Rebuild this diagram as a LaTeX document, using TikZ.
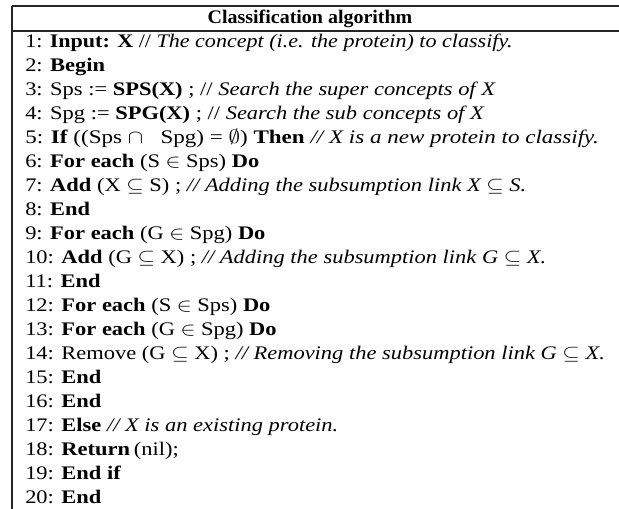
\documentclass[tikz,border=0pt]{standalone}
\usepackage{fontspec}
\setmainfont{Liberation Serif}
\newcommand\stretchtxt[2][1.17]{\scalebox{#1}[1]{#2}}
\begin{document}
\begin{tikzpicture}[x=0.75pt,y=-0.75pt,
  txt/.style={anchor=base west,inner sep=0pt,font=\fontsize{14.4}{17}\selectfont},
  ttl/.style={anchor=base,inner sep=0pt,font=\fontsize{14.4}{17}\selectfont\bfseries},
  rule/.style={line width=1pt,black!85}]
\useasboundingbox (0,0) rectangle (619,509);
\coordinate (tl) at (12,6);
\coordinate (tr) at (619,6);
\coordinate (ml) at (12,31);
\coordinate (mr) at (619,31);
\coordinate (bl) at (12,509);
\draw[rule] (tl) -- (tr);
\draw[rule] (ml) -- (mr);
\draw[rule] (tl) -- (bl);
\node[ttl] (title) at (310,24) {\stretchtxt[1.04]{Classification algorithm}};
\node[txt] (l1) at (25,48) {\stretchtxt[1.15]{1: \textbf{Input: X} // \textit{The concept (i.e. the protein) to classify.}}};
\node[txt] (l2) at (25,72) {\stretchtxt{2: \textbf{Begin}}};
\node[txt] (l3) at (25,96) {\stretchtxt{3: Sps := \textbf{SPS(X)} ; // \textit{Search the super concepts of X}}};
\node[txt] (l4) at (25,120) {\stretchtxt{4: Spg := \textbf{SPG(X)} ; // \textit{Search the sub concepts of X}}};
\node[txt] (l5) at (25,144) {\stretchtxt[1.2]{5: \textbf{If} ((Sps $\cap$\ \ \ Spg) = $\emptyset$) \textbf{Then} \textit{// X is a new protein to classify.}}};
\node[txt] (l6) at (25,168) {\stretchtxt{6: \textbf{For each} (S $\in$ Sps) \textbf{Do}}};
\node[txt] (l7) at (25,192) {\stretchtxt{7: \textbf{Add} (X $\subseteq$ S) ; \textit{// Adding the subsumption link X $\subseteq$ S.}}};
\node[txt] (l8) at (25,216) {\stretchtxt{8: \textbf{End}}};
\node[txt] (l9) at (25,240) {\stretchtxt{9: \textbf{For each} (G $\in$ Spg) \textbf{Do}}};
\node[txt] (l10) at (25,264) {\stretchtxt{10: \textbf{Add} (G $\subseteq$ X) ; \textit{// Adding the subsumption link G $\subseteq$ X.}}};
\node[txt] (l11) at (25,288) {\stretchtxt{11: \textbf{End}}};
\node[txt] (l12) at (25,312) {\stretchtxt{12: \textbf{For each} (S $\in$ Sps) \textbf{Do}}};
\node[txt] (l13) at (25,336) {\stretchtxt{13: \textbf{For each} (G $\in$ Spg) \textbf{Do}}};
\node[txt] (l14) at (25,360) {\stretchtxt{14: Remove (G $\subseteq$ X) ; \textit{// Removing the subsumption link G $\subseteq$ X.}}};
\node[txt] (l15) at (25,384) {\stretchtxt{15: \textbf{End}}};
\node[txt] (l16) at (25,408) {\stretchtxt{16: \textbf{End}}};
\node[txt] (l17) at (25,432) {\stretchtxt{17: \textbf{Else} \textit{// X is an existing protein.}}};
\node[txt] (l18) at (25,456) {\stretchtxt{18: \textbf{Return}\,(nil);}};
\node[txt] (l19) at (25,480) {\stretchtxt{19: \textbf{End if}}};
\node[txt] (l20) at (25,504) {\stretchtxt{20: \textbf{End}}};
\end{tikzpicture}
\end{document}
